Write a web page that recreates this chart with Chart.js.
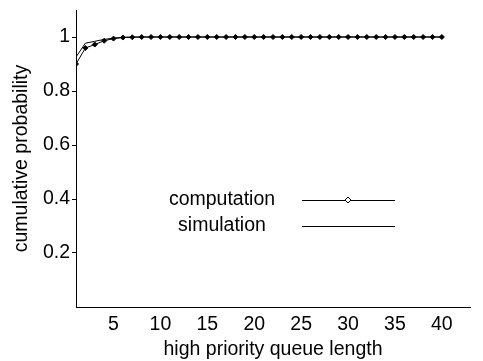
<!DOCTYPE html>
<html>
<head>
  <script src="https://cdn.jsdelivr.net/npm/chart.js"></script>
  <style>
    body { margin: 0; background: #fff; }
    #box { width: 483px; height: 361px; }
  </style>
</head>
<body>
  <div id="box"><canvas id="myChart"></canvas></div>
  <script>
    const queueLength = [];
    for (let i = 1; i <= 40; i++) queueLength.push(i);
    const computation = [0.900, 0.959, 0.972, 0.986, 0.994, 0.998, 0.999, 1, 1, 1,
      1, 1, 1, 1, 1, 1, 1, 1, 1, 1, 1, 1, 1, 1, 1, 1, 1, 1, 1, 1,
      1, 1, 1, 1, 1, 1, 1, 1, 1, 1];
    const simulation = [0.926, 0.977, 0.984, 0.991, 0.996, 0.999, 1, 1, 1, 1,
      1, 1, 1, 1, 1, 1, 1, 1, 1, 1, 1, 1, 1, 1, 1, 1, 1, 1, 1, 1,
      1, 1, 1, 1, 1, 1, 1, 1, 1, 1];
    const xTicks = [5, 10, 15, 20, 25, 30, 35, 40];
    const yTicks = [0.2, 0.4, 0.6, 0.8, 1];

    const FONT = { family: 'Liberation Sans, Arial, sans-serif', size: 19.5 };

    // legend drawn in the middle of the plot: text centered, sample line to the right
    const midLegend = {
      id: 'midLegend',
      afterDraw(chart) {
        const c = chart.ctx;
        const rows = [{ y: 200, ds: chart.data.datasets[0] }, { y: 226, ds: chart.data.datasets[1] }];
        c.save();
        c.font = FONT.size + 'px ' + FONT.family;
        c.fillStyle = '#000';
        c.textAlign = 'center';
        c.textBaseline = 'middle';
        rows.forEach(r => {
          c.fillText(r.ds.label, 222, r.y);
          c.strokeStyle = '#000';
          c.lineWidth = 1;
          c.beginPath();
          c.moveTo(302, r.y + 0.5);
          c.lineTo(395, r.y + 0.5);
          c.stroke();
          if (r.ds.pointRadius > 0) {
            c.fillStyle = '#fff';
            c.beginPath();
            c.moveTo(348, r.y - 3);
            c.lineTo(351, r.y);
            c.lineTo(348, r.y + 3);
            c.lineTo(345, r.y);
            c.closePath();
            c.fill();
            c.stroke();
            c.fillStyle = '#000';
          }
        });
        c.restore();
      }
    };

    new Chart(document.getElementById('myChart'), {
      type: 'line',
      data: {
        labels: queueLength,
        datasets: [
          {
            label: 'computation',
            data: computation.map((v, i) => ({ x: queueLength[i], y: v })),
            borderColor: '#000',
            borderWidth: 1,
            pointStyle: 'rectRot',
            pointRadius: 2.5,
            pointBackgroundColor: '#000',
            pointBorderColor: '#000',
            pointBorderWidth: 1,
            tension: 0
          },
          {
            label: 'simulation',
            data: simulation.map((v, i) => ({ x: queueLength[i], y: v })),
            borderColor: '#000',
            borderWidth: 1,
            pointRadius: 0,
            tension: 0
          }
        ]
      },
      options: {
        responsive: true,
        maintainAspectRatio: false,
        animation: false,
        layout: { padding: { top: 10, right: 13, left: 0, bottom: 0 } },
        plugins: { legend: { display: false }, tooltip: { enabled: false } },
        scales: {
          x: {
            type: 'linear',
            min: 1,
            max: 43,
            afterBuildTicks: s => { s.ticks = xTicks.map(v => ({ value: v })); },
            afterFit: s => { s.height = 54; },
            grid: { display: false, drawTicks: false },
            border: { display: true, color: '#000', width: 1 },
            ticks: { color: '#000', font: FONT, maxRotation: 0, padding: 6 },
            title: { display: true, text: 'high priority queue length', color: '#000', font: FONT, padding: { top: 2, bottom: 0 } }
          },
          y: {
            min: 0,
            max: 1.1,
            afterBuildTicks: s => { s.ticks = yTicks.map(v => ({ value: v })); },
            afterFit: s => { s.width = 76; s.paddingTop = 0; s.paddingBottom = 0; },
            grid: { drawOnChartArea: false, drawTicks: true, tickLength: 4, color: '#000' },
            border: { display: true, color: '#000', width: 1 },
            ticks: { color: '#000', font: FONT, padding: 2, callback: v => String(v) },
            title: { display: true, text: 'cumulative probability', color: '#000', font: FONT, padding: { top: 10, bottom: 0 } }
          }
        }
      },
      plugins: [midLegend]
    });
  </script>
</body>
</html>
